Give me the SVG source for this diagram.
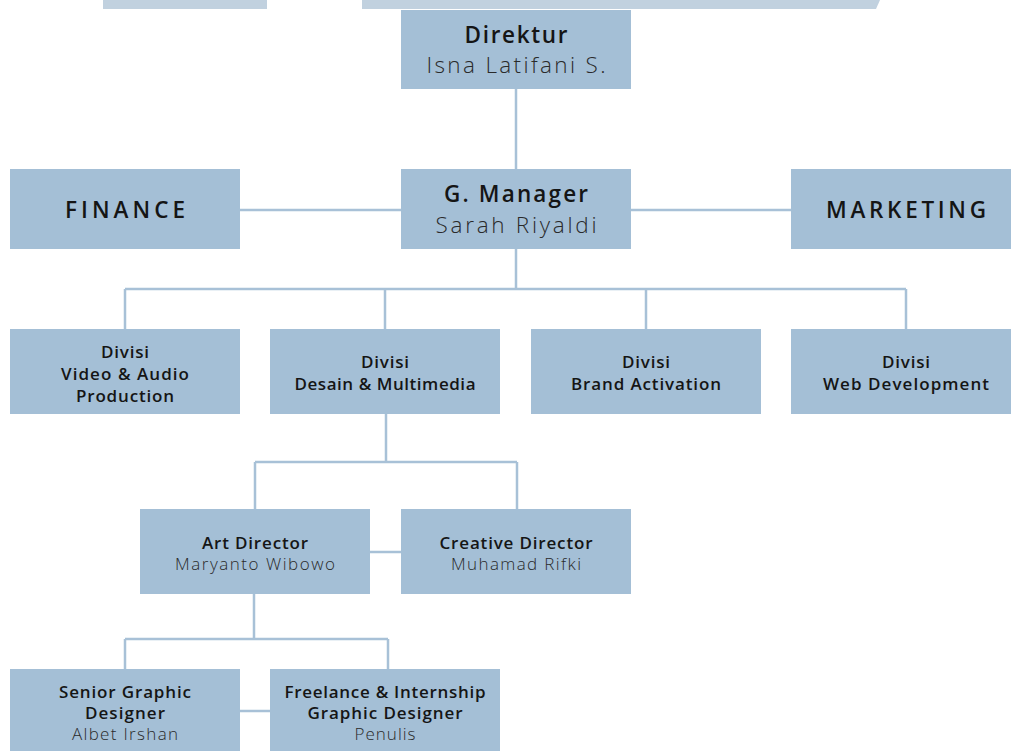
<svg xmlns="http://www.w3.org/2000/svg" width="1011" height="751" viewBox="0 0 1011 751">
<style>
.box{fill:#a4bfd6}
.ln{stroke:#a8c1d7;stroke-width:2.5;fill:none}
.t{font-family:"Open Sans","Noto Sans",sans-serif;text-anchor:middle;fill:#151515}
.b22{font-size:22.5px;font-weight:600}
.l22{font-size:22.5px;font-weight:300;fill:#2a2a2a}
.b16{font-size:17px;font-weight:600}
.l16{font-size:17px;font-weight:300;fill:#2a2a2a}
</style>
<rect width="1011" height="751" fill="#ffffff"/>
<g id="deco">
<rect x="103" y="0" width="164" height="9" fill="#c1d1df"/>
<polygon points="362,0 880,0 876,9 362,9" fill="#c1d1df"/>
</g>
<g id="connectors">
<path class="ln" d="M516,89V169 M240,210H401 M631,210H791 M516,249V289 M125,289H906 M125,289V329 M385,289V329 M646,289V329 M906,289V329 M386,414V462 M255,462H517 M255,462V509 M517,462V509 M370,552H401 M254,594V639 M125,639H388 M125,639V669 M388,639V669 M240,711H270"/>
</g>
<g id="direktur"><rect class="box" x="401" y="10" width="230" height="79"/>
<text class="t b22" x="516" y="43" textLength="103" lengthAdjust="spacing">Direktur</text><text class="t l22" x="516" y="73" textLength="179" lengthAdjust="spacing">Isna Latifani S.</text></g>
<g id="finance"><rect class="box" x="10" y="169" width="230" height="80"/>
<text class="t b22" x="125" y="218" textLength="120" lengthAdjust="spacing">FINANCE</text></g>
<g id="gmanager"><rect class="box" x="401" y="169" width="230" height="80"/>
<text class="t b22" x="516" y="202" textLength="144" lengthAdjust="spacing">G. Manager</text><text class="t l22" x="516" y="233" textLength="161" lengthAdjust="spacing">Sarah Riyaldi</text></g>
<g id="marketing"><rect class="box" x="791" y="169" width="220" height="80"/>
<text class="t b22" x="906" y="218" textLength="160" lengthAdjust="spacing">MARKETING</text></g>
<g id="div-video"><rect class="box" x="10" y="329" width="230" height="85"/>
<text class="t b16" x="125" y="358" textLength="48" lengthAdjust="spacing">Divisi</text><text class="t b16" x="125" y="380" textLength="128" lengthAdjust="spacing">Video &amp; Audio</text><text class="t b16" x="125" y="402" textLength="98" lengthAdjust="spacing">Production</text></g>
<g id="div-desain"><rect class="box" x="270" y="329" width="230" height="85"/>
<text class="t b16" x="385" y="368" textLength="48" lengthAdjust="spacing">Divisi</text><text class="t b16" x="385" y="390" textLength="181" lengthAdjust="spacing">Desain &amp; Multimedia</text></g>
<g id="div-brand"><rect class="box" x="531" y="329" width="230" height="85"/>
<text class="t b16" x="646" y="368" textLength="48" lengthAdjust="spacing">Divisi</text><text class="t b16" x="646" y="390" textLength="150" lengthAdjust="spacing">Brand Activation</text></g>
<g id="div-web"><rect class="box" x="791" y="329" width="220" height="85"/>
<text class="t b16" x="906" y="368" textLength="48" lengthAdjust="spacing">Divisi</text><text class="t b16" x="906" y="390" textLength="166" lengthAdjust="spacing">Web Development</text></g>
<g id="art"><rect class="box" x="140" y="509" width="230" height="85"/>
<text class="t b16" x="255" y="549" textLength="106" lengthAdjust="spacing">Art Director</text><text class="t l16" x="255" y="570" textLength="160" lengthAdjust="spacing">Maryanto Wibowo</text></g>
<g id="creative"><rect class="box" x="401" y="509" width="230" height="85"/>
<text class="t b16" x="516" y="549" textLength="153" lengthAdjust="spacing">Creative Director</text><text class="t l16" x="516" y="570" textLength="130" lengthAdjust="spacing">Muhamad Rifki</text></g>
<g id="senior"><rect class="box" x="10" y="669" width="230" height="82"/>
<text class="t b16" x="125" y="698" textLength="132" lengthAdjust="spacing">Senior Graphic</text><text class="t b16" x="125" y="719" textLength="80" lengthAdjust="spacing">Designer</text><text class="t l16" x="125" y="740" textLength="106" lengthAdjust="spacing">Albet Irshan</text></g>
<g id="freelance"><rect class="box" x="270" y="669" width="230" height="82"/>
<text class="t b16" x="385" y="698" textLength="201" lengthAdjust="spacing">Freelance &amp; Internship</text><text class="t b16" x="385" y="719" textLength="155" lengthAdjust="spacing">Graphic Designer</text><text class="t l16" x="385" y="740" textLength="61" lengthAdjust="spacing">Penulis</text></g>
</svg>
